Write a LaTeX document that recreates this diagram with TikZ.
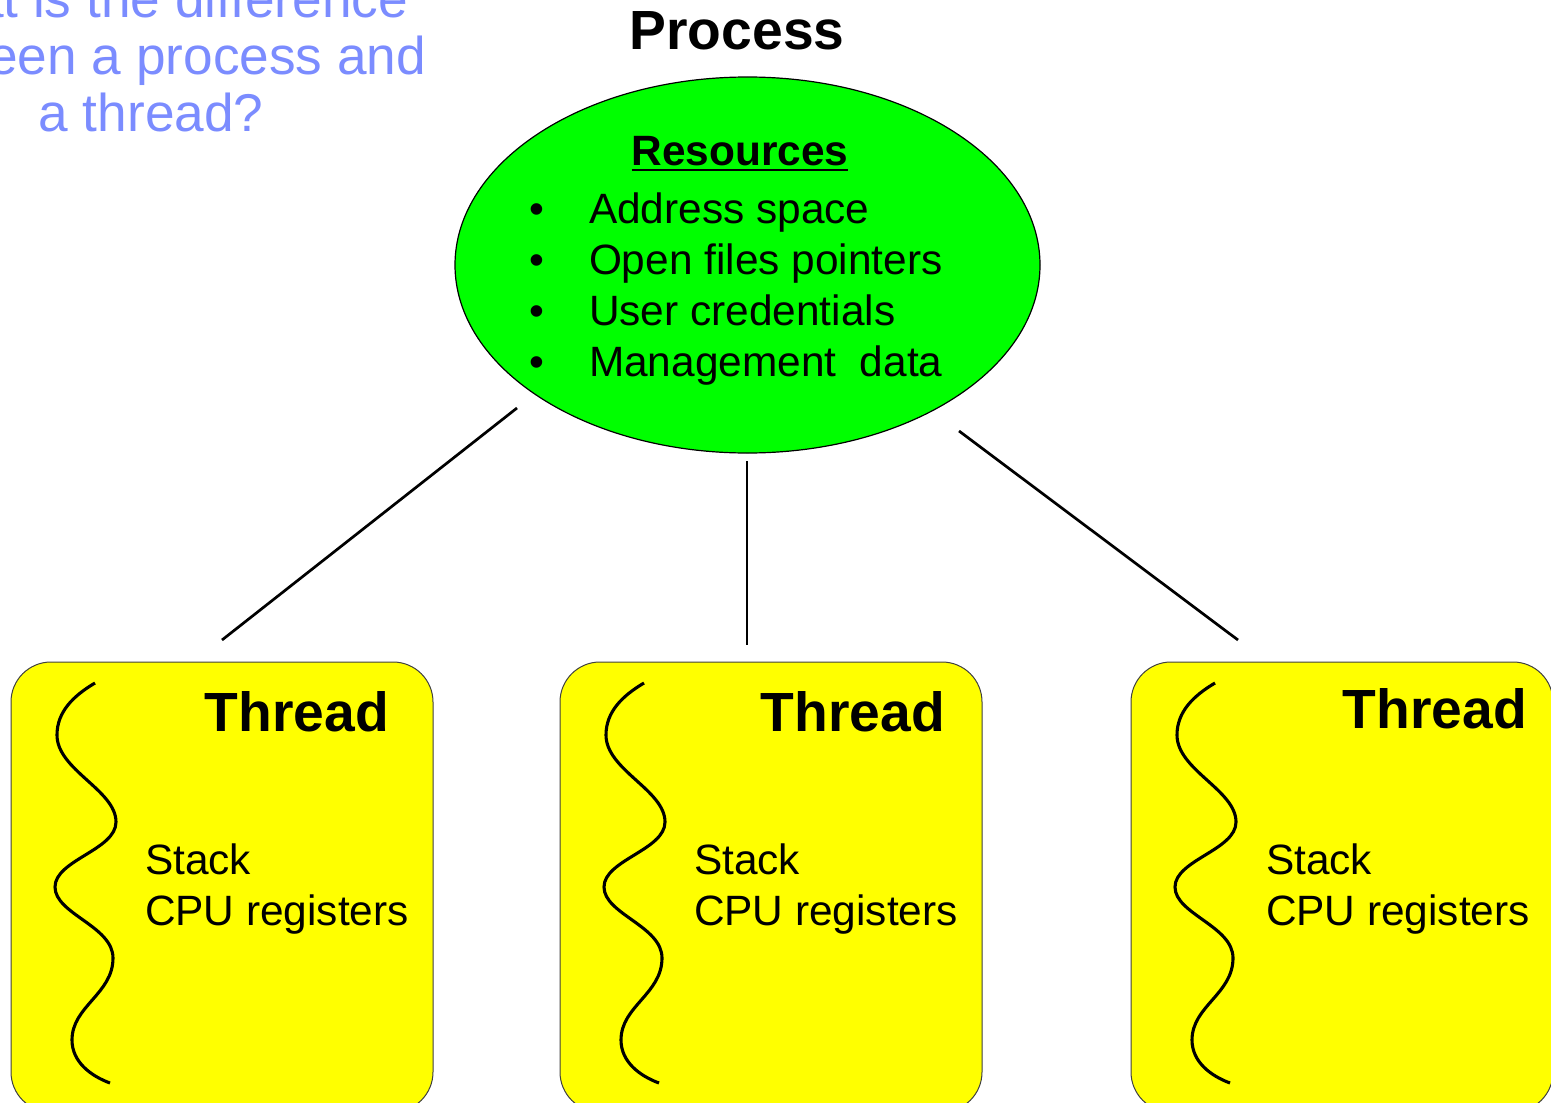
\documentclass[tikz,border=0pt]{standalone}
\usepackage{fontspec}
\setmainfont{Liberation Sans}
\usetikzlibrary{shapes.geometric,calc}
\definecolor{procgreen}{HTML}{00FF00}
\definecolor{threadyellow}{HTML}{FFFF00}
\definecolor{questionblue}{HTML}{7B8CFF}

\tikzset{
  pics/threadwave/.style={code={
    \draw[line width=1.55pt]
      (84,21) .. controls (62,34) and (46,50) .. (46,73)
              .. controls (46,108) and (105,128) .. (105,160)
              .. controls (105,188) and (44,198) .. (44,225)
              .. controls (44,252) and (102,264) .. (102,296)
              .. controls (102,332) and (61,344) .. (61,378)
              .. controls (61,400) and (80,414) .. (99,421);
  }}
}

\begin{document}
\begin{tikzpicture}[x=0.5pt,y=-0.5pt,
  txt/.style={inner sep=0pt, outer sep=0pt, font=\fontsize{21.2}{25}\selectfont},
  boldtitle/.style={inner sep=0pt, outer sep=0pt, anchor=base, font=\fontsize{27.6}{33}\selectfont\bfseries},
  question/.style={inner sep=0pt, outer sep=0pt, anchor=base, text=questionblue, font=\fontsize{26.6}{30}\selectfont},
  threadbox/.style={draw=black!75, line width=0.5pt, fill=threadyellow, rounded corners=20pt,
    minimum width=211pt, minimum height=225pt, inner sep=0pt},
  procshape/.style={ellipse, draw=black, line width=0.6pt, fill=procgreen,
    minimum width=292.5pt, minimum height=188pt, inner sep=0pt},
  link/.style={line width=1.35pt}]

\useasboundingbox (0,0) rectangle (1551,1102);

% question text, partly running off the left edge
\node[question] (q1) at (151,18) {What is the difference};
\node[question] (q2) at (151,75) {between a process and};
\node[question] (q3) at (151,132) {a thread?};

% process
\node[boldtitle] (proctitle) at (737,50) {Process};
\node[procshape] (proc) at (747.5,265) {};
\node[txt, font=\fontsize{21.2}{25}\selectfont\bfseries, anchor=base] (res) at (740,165) {Resources};
\draw[line width=1pt] ($(res.base west)+(0,5)$) -- ($(res.base east)+(0,5)$);

\foreach \i/\t/\y in {1/Address space/223, 2/Open files pointers/274, 3/User credentials/325, 4/Management\ \ data/376}{
  \node[txt, anchor=base] (bul\i) at (537,\y) {\textbullet};
  \node[txt, anchor=base west] (item\i) at (589,\y) {\t};
}

% threads
\node[threadbox] (t1) at (222,887) {};
\node[threadbox] (t2) at (771,887) {};
\node[threadbox] (t3) at (1342,887) {};

\pic at (11,662) {threadwave};
\pic at (560,662) {threadwave};
\pic at (1131,662) {threadwave};

\node[boldtitle, anchor=base east] (t1title) at (389,731) {Thread};
\node[boldtitle, anchor=base east] (t2title) at (945,731) {Thread};
\node[boldtitle, anchor=base east] (t3title) at (1527,728) {Thread};

\foreach \n/\x in {1/145, 2/694, 3/1266}{
  \node[txt, anchor=base west] (stack\n) at (\x,874) {Stack};
  \node[txt, anchor=base west] (cpu\n) at (\x,925) {CPU registers};
}

% links between the process and its threads
\coordinate (p1) at (517,408);
\coordinate (p2) at (747,461);
\coordinate (p3) at (959,431);
\coordinate (c1) at (222,640);
\coordinate (c2) at (747,645);
\coordinate (c3) at (1238,640);
\draw[link] (p1) -- (c1);
\draw[link] (p2) -- (c2);
\draw[link] (p3) -- (c3);

\end{tikzpicture}
\end{document}
